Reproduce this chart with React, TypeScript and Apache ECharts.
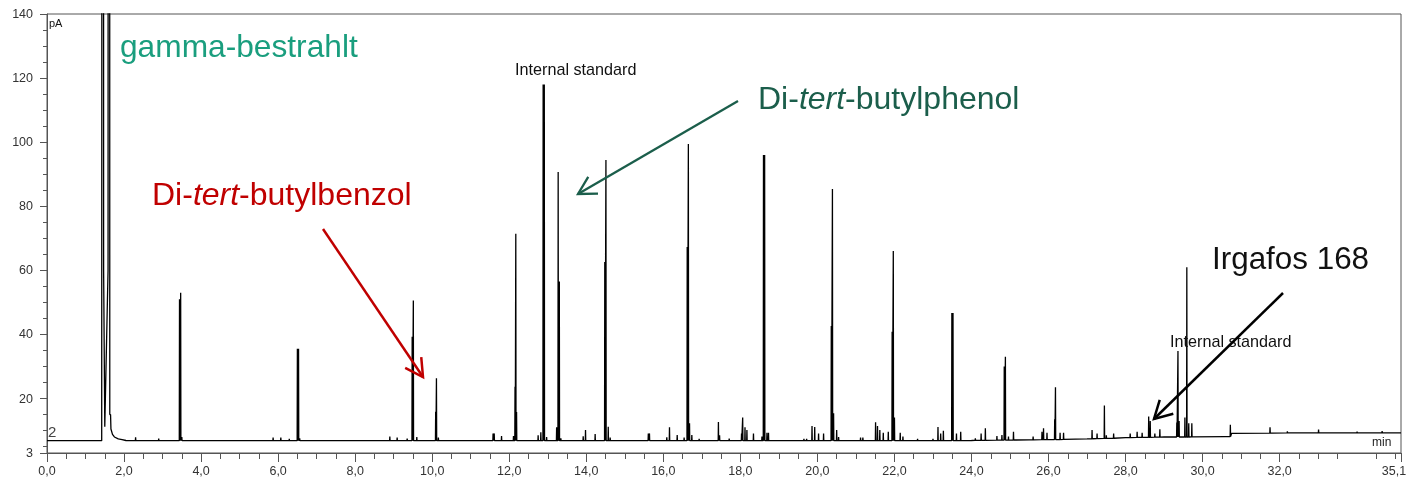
import React, { useEffect, useRef } from "react";
import * as echarts from "echarts";

// ---------- data ----------
const xEnd = 35.15;
const xLabelValues = [0, 2, 4, 6, 8, 10, 12, 14, 16, 18, 20, 22, 24, 26, 28, 30, 32];
const xEndLabel = "35,1";
const yLabelValues = [3, 20, 40, 60, 80, 100, 120, 140];

// baseline control points (min, pA)
const baseTimesA = [0, 1.42];
const baseValuesA = [6.85, 6.85];
const baseTimesB = [2.05, 24.0, 25.5, 27.0, 28.0, 29.0, 30.6, 30.75, 31.8, 35.15];
const baseValuesB = [6.9, 6.9, 7.1, 7.4, 7.8, 8.0, 8.1, 9.1, 9.2, 9.3];

// solvent peak region (off-scale)
const solventTimes = [1.425, 1.43, 1.465, 1.47, 1.5, 1.585, 1.59, 1.625, 1.63, 1.65, 1.66, 1.7, 1.75, 1.85, 1.95];
const solventValues = [6.85, 400, 400, 60, 11.2, 60, 400, 400, 15, 15, 10.5, 8.8, 8.0, 7.4, 7.2];

// peaks: [time, height, foot]
const peaksEarly: [number, number, number][] = [
  [2.3, 7.9, 6.85], [2.9, 7.5, 6.85], [3.44, 51.0, 6.85], [3.47, 53.0, 6.85], [3.5, 8.0, 6.85],
  [5.87, 7.8, 6.85], [6.07, 7.8, 6.85], [6.29, 7.4, 6.85], [6.5, 35.5, 6.85], [6.53, 35.5, 6.85],
  [6.56, 7.6, 6.85], [8.9, 8.1, 6.85], [9.09, 7.8, 6.85], [9.35, 7.5, 6.85], [9.48, 39.3, 6.85],
  [9.51, 50.6, 6.85], [9.6, 8.0, 6.85], [10.09, 15.9, 6.85], [10.11, 26.3, 6.85], [10.16, 7.8, 6.85],
  [11.58, 9.1, 6.85], [11.61, 9.1, 6.85], [11.8, 8.3, 6.85],
];
const peaksMiddle: [number, number, number][] = [
  [12.11, 8.3, 6.85], [12.15, 23.7, 6.85], [12.17, 71.4, 6.85], [12.19, 15.8, 6.85], [12.75, 8.5, 6.85],
  [12.82, 9.5, 6.85], [12.88, 118, 6.85], [12.91, 118, 6.85], [12.97, 8.0, 6.85], [13.23, 11.0, 6.85],
  [13.27, 90.7, 6.85], [13.3, 56.5, 6.85], [13.34, 7.6, 6.85], [13.92, 8.2, 6.85], [13.98, 10.2, 6.85],
  [14.23, 8.9, 6.85], [14.48, 62.6, 6.85], [14.51, 94.4, 6.85], [14.57, 11.2, 6.85], [14.62, 7.8, 6.85],
  [15.61, 9.1, 6.85], [15.64, 9.1, 6.85], [16.09, 7.9, 6.85], [16.16, 11.0, 6.85], [16.36, 8.6, 6.85],
  [16.54, 7.8, 6.85], [16.62, 67.3, 6.85], [16.65, 99.4, 6.85], [16.68, 12.3, 6.85], [16.74, 8.6, 6.85],
  [16.93, 7.4, 6.85], [17.43, 12.7, 6.85], [17.46, 8.5, 6.85], [17.71, 7.5, 6.85], [18.03, 9.1, 6.85],
  [18.06, 14.1, 6.85], [18.12, 11.0, 6.85], [18.17, 10.2, 6.85], [18.34, 9.1, 6.85], [18.56, 8.1, 6.85],
  [18.6, 96.0, 6.85], [18.63, 96.0, 6.85], [18.69, 9.3, 6.85], [18.73, 9.3, 6.85], [19.65, 7.4, 6.85],
  [19.72, 7.4, 6.85], [19.86, 11.4, 6.85], [19.93, 11.1, 6.85], [20.03, 9.1, 6.85], [20.16, 9.1, 6.85],
  [20.36, 42.6, 6.85], [20.39, 85.4, 6.85], [20.42, 15.4, 6.85], [20.5, 10.2, 6.85], [20.55, 8.0, 6.85],
  [21.12, 7.8, 6.85], [21.18, 7.8, 6.85], [21.51, 12.6, 6.85], [21.56, 11.4, 6.85], [21.62, 10.2, 6.85],
  [21.71, 9.3, 6.85], [21.84, 9.6, 6.85], [21.94, 40.8, 6.85], [21.97, 66.0, 6.85], [22.0, 14.1, 6.85],
  [22.15, 9.3, 6.85], [22.22, 8.1, 6.85], [22.6, 7.4, 6.85], [23.0, 7.4, 6.85], [23.13, 11.1, 6.85],
  [23.2, 9.1, 6.85], [23.27, 9.9, 6.85], [23.49, 46.7, 6.85], [23.52, 46.7, 6.85], [23.61, 9.1, 6.85],
  [23.72, 9.6, 6.85],
];
const peaksLate: [number, number, number][] = [
  [24.1, 7.6, 6.95], [24.25, 9.1, 6.95], [24.36, 10.7, 6.95], [24.66, 8.3, 7.0], [24.79, 8.6, 7.0],
  [24.85, 30.0, 7.0], [24.88, 33.0, 7.0], [24.96, 8.1, 7.0], [25.09, 9.6, 7.05], [25.6, 8.1, 7.1],
  [25.83, 9.6, 7.15], [25.87, 10.7, 7.15], [25.96, 9.3, 7.15], [26.16, 13.5, 7.2], [26.18, 23.5, 7.2],
  [26.3, 9.3, 7.2], [26.39, 9.3, 7.25], [27.13, 10.2, 7.45], [27.26, 9.1, 7.5], [27.45, 17.8, 7.55],
  [27.5, 8.5, 7.55], [27.69, 9.1, 7.6], [28.12, 9.1, 7.8], [28.3, 9.6, 7.85], [28.43, 9.3, 7.9],
  [28.6, 14.4, 7.9], [28.64, 13.0, 7.9], [28.76, 9.1, 7.95], [28.89, 10.4, 7.95], [29.33, 12.5, 8.0],
  [29.36, 34.8, 8.0], [29.39, 13.0, 8.0], [29.54, 14.1, 8.0], [29.59, 61.0, 8.0], [29.64, 12.3, 8.0],
  [29.72, 12.3, 8.05], [30.72, 11.8, 8.1], [31.75, 11.0, 9.2], [32.2, 9.8, 9.25], [33.01, 10.3, 9.25],
  [34.01, 9.7, 9.3], [34.66, 9.8, 9.3],
];

// ---------- build trace ----------
function buildTrace(): [number, number][] {
  const pts: [number, number][] = [];
  baseTimesA.forEach((t, i) => pts.push([t, baseValuesA[i]]));
  solventTimes.forEach((t, i) => pts.push([t, solventValues[i]]));
  baseTimesB.forEach((t, i) => pts.push([t, baseValuesB[i]]));
  const hw = 0.006;
  [...peaksEarly, ...peaksMiddle, ...peaksLate].forEach(([t, h, f]) => {
    pts.push([t - hw, f], [t, h], [t + hw, f]);
  });
  pts.sort((a, b) => a[0] - b[0]);
  return pts;
}

const FONT = '"Liberation Sans", Arial, Helvetica, sans-serif';
const AXIS = "#555";

function arrowHead(tipX: number, tipY: number, fromX: number, fromY: number, len = 20, angDeg = 29) {
  const dx = fromX - tipX, dy = fromY - tipY;
  const L = Math.hypot(dx, dy);
  const ux = dx / L, uy = dy / L;
  const a = (angDeg * Math.PI) / 180;
  const r = (s: number) => [
    tipX + len * (ux * Math.cos(s * a) - uy * Math.sin(s * a)),
    tipY + len * (ux * Math.sin(s * a) + uy * Math.cos(s * a)),
  ];
  return [r(1), [tipX, tipY], r(-1)];
}

function arrow(x1: number, y1: number, x2: number, y2: number, color: string, w: number) {
  return [
    { type: "line", z: 100, shape: { x1, y1, x2, y2 }, style: { stroke: color, lineWidth: w } },
    {
      type: "polyline",
      z: 100,
      shape: { points: arrowHead(x2, y2, x1, y1) },
      style: { stroke: color, lineWidth: w, fill: null, lineJoin: "miter" },
    },
  ];
}

function txt(x: number, y: number, text: string, size: number, color: string, extra: any = {}) {
  return {
    type: "text",
    z: 100,
    x,
    y,
    style: {
      text,
      fill: color,
      fontSize: size,
      fontFamily: FONT,
      align: "left",
      verticalAlign: "middle",
      ...extra,
    },
  };
}

export default function App() {
  const ref = useRef<HTMLDivElement>(null);
  useEffect(() => {
    if (!ref.current) return;
    const chart = echarts.init(ref.current, null, { renderer: "svg" });
    const xMinor: number[] = [];
    for (let v = 0.5; v < xEnd; v += 0.5) if (Math.abs(v % 2) > 1e-6) xMinor.push(v);
    const yMinor: number[] = [];
    for (let v = 5; v < 140; v += 5) if (v % 20 !== 0) yMinor.push(v);
    const green = "#1b5e4b";
    const red = "#c00000";
    const teal = "#1a9e7e";
    const richItalic = (size: number, color: string) => ({
      i: { fontStyle: "italic", fontSize: size, fontFamily: FONT, fill: color, color },
      n: { fontSize: size, fontFamily: FONT, fill: color, color },
    });

    chart.setOption({
      animation: false,
      grid: {
        left: 47,
        right: 7,
        top: 14,
        bottom: 26,
        show: true,
        borderColor: AXIS,
        borderWidth: 1,
        containLabel: false,
        outerBoundsMode: "none",
      },
      xAxis: [
        {
          type: "value",
          min: 0,
          max: xEnd,
          position: "bottom",
          axisLine: { show: true, lineStyle: { color: AXIS, width: 1 } },
          splitLine: { show: false },
          axisTick: {
            show: true,
            length: 9,
            customValues: [...xLabelValues, xEnd],
            lineStyle: { color: AXIS },
          },
          axisLabel: {
            customValues: [...xLabelValues, xEnd],
            formatter: (v: number) =>
              Math.abs(v - xEnd) < 1e-6 ? "{e|" + xEndLabel + "}" : v.toFixed(1).replace(".", ","),
            rich: { e: { padding: [0, 14, 0, 0], fontSize: 12.5, fontFamily: FONT, color: "#333" } },
            margin: 11,
            color: "#333",
            fontSize: 12.5,
            fontFamily: FONT,
          },
        },
        {
          type: "value",
          min: 0,
          max: xEnd,
          position: "bottom",
          axisLine: { show: false },
          splitLine: { show: false },
          axisTick: { show: true, length: 6, customValues: xMinor, lineStyle: { color: AXIS } },
          axisLabel: { show: false },
        },
      ],
      yAxis: [
        {
          type: "value",
          min: 3,
          max: 140,
          position: "left",
          axisLine: { show: true, lineStyle: { color: AXIS, width: 1 } },
          splitLine: { show: false },
          axisTick: { show: true, length: 7, customValues: yLabelValues, lineStyle: { color: AXIS } },
          axisLabel: {
            customValues: yLabelValues,
            margin: 14,
            color: "#333",
            fontSize: 12.5,
            fontFamily: FONT,
          },
        },
        {
          type: "value",
          min: 3,
          max: 140,
          position: "left",
          axisLine: { show: false },
          splitLine: { show: false },
          axisTick: { show: true, length: 4, customValues: yMinor, lineStyle: { color: AXIS } },
          axisLabel: { show: false },
        },
      ],
      series: [
        {
          type: "line",
          xAxisIndex: 0,
          yAxisIndex: 0,
          data: buildTrace(),
          symbol: "none",
          showSymbol: false,
          clip: true,
          silent: true,
          lineStyle: { color: "#000", width: 1.3, join: "bevel" },
        },
      ],
      graphic: [
        txt(49, 23, "pA", 11, "#111"),
        txt(1372, 442, "min", 12, "#222"),
        txt(48, 431, "2", 15, "#444"),
        txt(120, 46, "gamma-bestrahlt", 31.7, teal),
        txt(515, 69, "Internal standard", 16.2, "#111"),
        txt(1170, 341, "Internal standard", 16.2, "#111"),
        txt(758, 98, "{n|Di-}{i|tert}{n|-butylphenol}", 32, green, { rich: richItalic(32, green) }),
        txt(152, 194, "{n|Di-}{i|tert}{n|-butylbenzol}", 32, red, { rich: richItalic(32, red) }),
        txt(1212, 258, "Irgafos 168", 31.4, "#111"),
        ...arrow(738, 101, 578, 194, green, 2.3),
        ...arrow(323, 229, 423, 377, red, 2.5),
        ...arrow(1283, 293, 1154, 419, "#000", 2.5),
      ],
    });
    return () => chart.dispose();
  }, []);
  return <div ref={ref} style={{ position: "fixed", left: 0, top: 0, width: 1408, height: 479 }} />;
}
